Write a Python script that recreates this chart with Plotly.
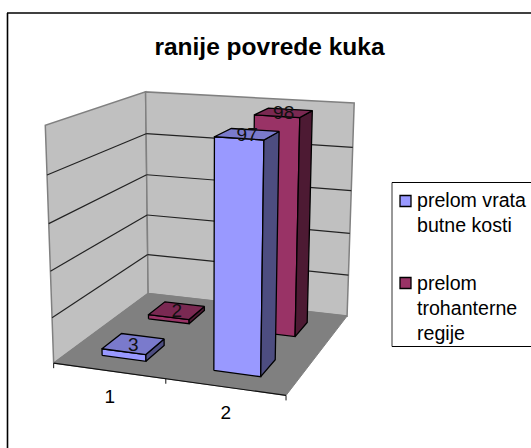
import numpy as np
import plotly.graph_objects as go

title = "ranije povrede kuka"
categories = ["1", "2"]
series_names = ["prelom vrata", "prelom trohanterne regije"]
legend_lines = [["prelom vrata", "butne kosti"], ["prelom", "trohanterne", "regije"]]
values_neck = [3, 97]
values_troch = [2, 98]
z_ticks = [0, 20, 40, 60, 80, 100]

W, H = 531, 448
# camera calibration: chart-space corners (cat, depth, value) and where they appear
world = [(0,0,0),(2,0,0),(0,2,0),(2,2,0),(0,2,100),(2,2,100),(0,0,100)]
screen = [(53.3,363),(286.7,395),(148.3,293.3),(346.7,316.7),(146,91.7),(354,102.7),(45,126)]
A = []
for (X,Y,Z),(u,v) in zip(world,screen):
    A.append([X,Y,Z,1,0,0,0,0,-u*X,-u*Y,-u*Z,-u])
    A.append([0,0,0,0,X,Y,Z,1,-v*X,-v*Y,-v*Z,-v])
P = np.linalg.svd(np.array(A,float))[2][-1].reshape(3,4)

def proj(X,Y,Z):
    h = P @ np.array([X,Y,Z,1.0])
    return h[0]/h[2], h[1]/h[2]

fig = go.Figure()

def poly(pts, fill, line, lw=1):
    xy = [proj(*p) for p in pts] + [proj(*pts[0])]
    fig.add_trace(go.Scatter(x=[a for a,_ in xy], y=[b for _,b in xy], mode="lines",
        fill="toself", fillcolor=fill, line=dict(color=line, width=lw), showlegend=False, hoverinfo="skip"))

def seg(a, b, color, lw=1):
    p, q = proj(*a), proj(*b)
    fig.add_trace(go.Scatter(x=[p[0],q[0]], y=[p[1],q[1]], mode="lines",
        line=dict(color=color, width=lw), showlegend=False, hoverinfo="skip"))

top = z_ticks[-1]
poly([(0,0,0),(0,2,0),(0,2,top),(0,0,top)], "#C0C0C0", "#808080", 1.5)
poly([(0,2,0),(2,2,0),(2,2,top),(0,2,top)], "#C0C0C0", "#808080", 1.5)
poly([(0,0,0),(2,0,0),(2,2,0),(0,2,0)], "#808080", "#808080", 1)
for t in z_ticks[1:-1]:
    seg((0,0,t),(0,2,t),"#222222",1.2)
    seg((0,2,t),(2,2,t),"#222222",1.2)
seg((0,0,0),(2,0,0),"#111111",1.2)
for i in range(3):
    p = proj(i,0,0)
    fig.add_trace(go.Scatter(x=[p[0],p[0]], y=[p[1],p[1]+5], mode="lines",
        line=dict(color="#111111",width=1), showlegend=False, hoverinfo="skip"))

def bar(c, s, v, front, side, topc):
    x0,x1 = c+0.3, c+0.7
    y0,y1 = s+0.3, s+0.7
    poly([(x0,y0,0),(x1,y0,0),(x1,y0,v),(x0,y0,v)], front, "#000000", 1.3)
    poly([(x1,y0,0),(x1,y1,0),(x1,y1,v),(x1,y0,v)], side, "#000000", 1.3)
    poly([(x0,y0,v),(x1,y0,v),(x1,y1,v),(x0,y1,v)], topc, "#000000", 1.3)

labels = []
for c in range(2):
    bar(c,1,values_troch[c],"#993366","#4D1A33","#7A2952")
    labels.append((c,1,values_troch[c]))
    bar(c,0,values_neck[c],"#9999FF","#4D4D80","#7A7ACC")
    labels.append((c,0,values_neck[c]))
    for (cc,s,v) in labels[-2:]:
        p = proj(cc+0.5,s+0.5,v)
        fig.add_trace(go.Scatter(x=[p[0]],y=[p[1]+2],mode="text",text=[str(v)],textposition="middle center",
            textfont=dict(family="Liberation Sans",size=19,color="#111111"),showlegend=False,hoverinfo="skip"))

for c,name in enumerate(categories):
    p = proj(c+0.5,0,0)
    fig.add_trace(go.Scatter(x=[p[0]+1],y=[p[1]+27],mode="text",text=[name],textposition="middle center",
        textfont=dict(family="Liberation Sans",size=19,color="#000000"),showlegend=False,hoverinfo="skip"))

# legend
line_y = [[200,225],[283,308,333]]
swatch_y = [201,283]
colors = ["#9999FF","#993366"]
for k,lines in enumerate(legend_lines):
    fig.add_trace(go.Scatter(x=[405.5],y=[swatch_y[k]],mode="markers",name=series_names[k],
        marker=dict(symbol="square",size=11,color=colors[k],line=dict(color="#000000",width=1.3)),
        showlegend=False,hoverinfo="skip"))
    for t,y in zip(lines,line_y[k]):
        fig.add_annotation(x=415,y=y,text=t,showarrow=False,xanchor="left",yanchor="middle",
            font=dict(family="Liberation Sans",size=19.6,color="#000000"))

shapes = [
    dict(type="line",x0=7.5,x1=7.5,y0=13,y1=H,line=dict(color="#000000",width=1.6)),
    dict(type="line",x0=7,x1=W,y0=13,y1=13,line=dict(color="#000000",width=1.6)),
    dict(type="line",x0=392,x1=392,y0=182.5,y1=346.5,line=dict(color="#333333",width=1)),
    dict(type="line",x0=392,x1=W,y0=182.5,y1=182.5,line=dict(color="#000000",width=1)),
    dict(type="line",x0=392,x1=W,y0=346.5,y1=346.5,line=dict(color="#000000",width=1)),
]
fig.update_layout(
    width=W,height=H,margin=dict(l=0,r=0,t=0,b=0),paper_bgcolor="#FFFFFF",plot_bgcolor="#FFFFFF",
    xaxis=dict(range=[0,W],visible=False,fixedrange=True),
    yaxis=dict(range=[H,0],visible=False,fixedrange=True),
    shapes=shapes,showlegend=False,hovermode=False,
    title=dict(text="<b>"+title+"</b>",x=269.5/W,xanchor="center",y=1-46/H,yanchor="middle",
               font=dict(family="Liberation Sans",size=24.5,color="#000000")),
)
fig.write_html("out.html",config=dict(displayModeBar=False),
               post_script="document.body.style.margin='0';document.documentElement.style.overflow='hidden';")
